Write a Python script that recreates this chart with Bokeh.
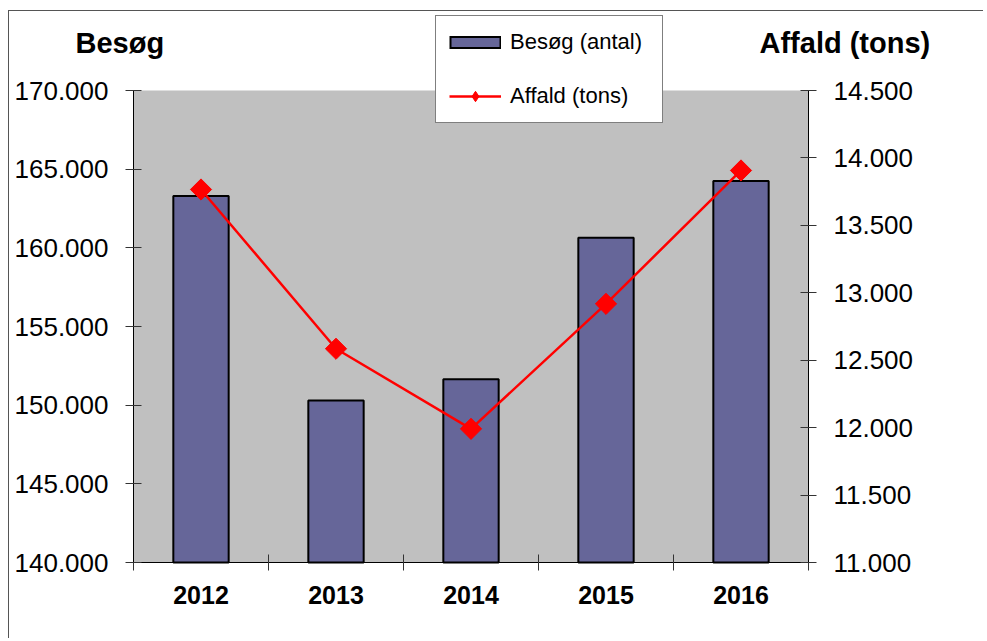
import numpy as np
from bokeh.plotting import figure
from bokeh.models import (Range1d, LinearAxis, FixedTicker, Legend, LegendItem,
                          Label, BoxAnnotation, CustomJSTickFormatter)
from bokeh.embed import file_html
from bokeh.resources import INLINE

# ---- data ----
years = ["2012", "2013", "2014", "2015", "2016"]
visits = [163300, 150300, 151650, 160640, 164240]      # Besøg (antal)
waste = [13766, 12585, 11991, 12918, 13907]            # Affald (tons)
visit_ticks = [140000, 145000, 150000, 155000, 160000, 165000, 170000]
waste_ticks = [11000, 11500, 12000, 12500, 13000, 13500, 14000, 14500]
left_title = "Besøg"
right_title = "Affald (tons)"
series_names = ["Besøg (antal)", "Affald (tons)"]

FONT = "Liberation Sans"
BAR = "#666699"
RED = "#FF0000"
n = len(years)
xc = np.arange(n) + 0.5

# ---- layout (canvas pixels) ----
W, H = 975, 628
PL, PR, PT, PB = 124, 799, 79, 551          # plot-area box inside the canvas
v0, v1 = visit_ticks[0], visit_ticks[-1]
w0, w1 = waste_ticks[0], waste_ticks[-1]

def ext(a, b, lo_px, hi_px, lo, hi):
    # extend data range [a,b] (drawn at pixels lo..hi) to the full canvas
    per = (b - a) / (hi - lo)
    return a - lo_px * per, b + hi_px * per

xs, xe = ext(0, n, PL, W - PR, PL, PR)
ys, ye = ext(v0, v1, H - PB, PT, PT, PB)
ws, we = ext(w0, w1, H - PB, PT, PT, PB)

p = figure(width=W, height=H, output_backend="svg", toolbar_location=None,
           x_range=Range1d(xs, xe), y_range=Range1d(ys, ye),
           min_border=0, x_axis_type=None, y_axis_type=None,
           background_fill_color="white", border_fill_color="white")
p.outline_line_color = None
p.grid.visible = False
p.styles = {"margin-left": "8px", "margin-top": "10px",
            "border-top": "1px solid #555555", "border-left": "1px solid #555555"}

p.extra_y_ranges = {"waste": Range1d(ws, we)}

p.add_layout(BoxAnnotation(left=0, right=n, bottom=v0, top=v1, fill_color="#C0C0C0",
                           fill_alpha=1, line_color=None, level="underlay"))

fmt = CustomJSTickFormatter(code="""
const s = Math.round(tick).toString();
return s.replace(/\\B(?=(\\d{3})+(?!\\d))/g, '.');
""")

def style_y(ax):
    ax.axis_line_color = "black"
    ax.axis_line_width = 1
    ax.major_tick_line_color = "#333333"
    ax.major_tick_in = 8
    ax.major_tick_out = 8
    ax.minor_tick_line_color = None
    ax.major_label_standoff = 17
    ax.major_label_text_font = FONT
    ax.major_label_text_font_size = "26px"
    ax.major_label_text_color = "black"
    ax.formatter = fmt

left = LinearAxis(ticker=FixedTicker(ticks=visit_ticks), fixed_location=0, bounds=(v0, v1))
style_y(left)
p.add_layout(left, "left")

right = LinearAxis(y_range_name="waste", ticker=FixedTicker(ticks=waste_ticks),
                   fixed_location=n, bounds=(w0, w1))
style_y(right)
p.add_layout(right, "right")

xaxis = LinearAxis(ticker=FixedTicker(ticks=list(xc), minor_ticks=list(range(n + 1))),
                   fixed_location=v0, bounds=(0, n))
xaxis.major_label_overrides = {float(c): y for c, y in zip(xc, years)}
xaxis.axis_line_color = "black"
xaxis.major_tick_line_color = None
xaxis.major_tick_in = 0
xaxis.major_tick_out = 0
xaxis.minor_tick_line_color = "#333333"
xaxis.minor_tick_in = 8
xaxis.minor_tick_out = 8
xaxis.major_label_standoff = 15
xaxis.major_label_text_font = FONT
xaxis.major_label_text_font_size = "25px"
xaxis.major_label_text_font_style = "bold"
xaxis.major_label_text_color = "black"
p.add_layout(xaxis, "below")

bars = p.vbar(x=xc, top=visits, bottom=v0, width=0.41,
              fill_color=BAR, line_color="black", line_width=2)
line = p.line(x=xc, y=waste, y_range_name="waste", line_color=RED, line_width=2.5)
marks = p.scatter(x=xc, y=waste, y_range_name="waste", marker="square",
                  angle=np.pi / 4, size=15, fill_color=RED, line_color=RED)

# legend-only swatches (a single NaN point, so they draw nothing in the plot)
nan = np.array([np.nan])
sw_edge = p.line(x=nan, y=nan, line_color="black", line_width=13)
sw_fill = p.line(x=nan, y=nan, line_color=BAR, line_width=9, line_dash="0 2 48 100")
lg_mark = p.scatter(x=nan, y=nan, marker="diamond", fill_color=RED, line_color=RED)

for txt, sx in [(left_title, 66), (right_title, 750)]:
    p.add_layout(Label(x=sx, y=H - 31, x_units="screen", y_units="screen", text=txt,
                       text_font=FONT, text_font_size="29px", text_font_style="bold",
                       text_baseline="alphabetic", text_align="left", text_color="black"))

legend = Legend(items=[LegendItem(label=series_names[0], renderers=[sw_edge, sw_fill]),
                       LegendItem(label=series_names[1], renderers=[line, lg_mark])],
                location=(426, H - 112), orientation="vertical")
legend.background_fill_color = "white"
legend.background_fill_alpha = 1
legend.border_line_color = "black"
legend.border_line_width = 1
legend.label_text_font = FONT
legend.label_text_font_size = "22px"
legend.label_text_color = "black"
legend.glyph_width = 52
legend.glyph_height = 26
legend.label_height = 26
legend.label_width = 139
legend.label_standoff = 9
legend.padding = 13
legend.spacing = 28
legend.margin = 0
p.add_layout(legend, "center")

open("out.html", "w").write(file_html(p, INLINE))
